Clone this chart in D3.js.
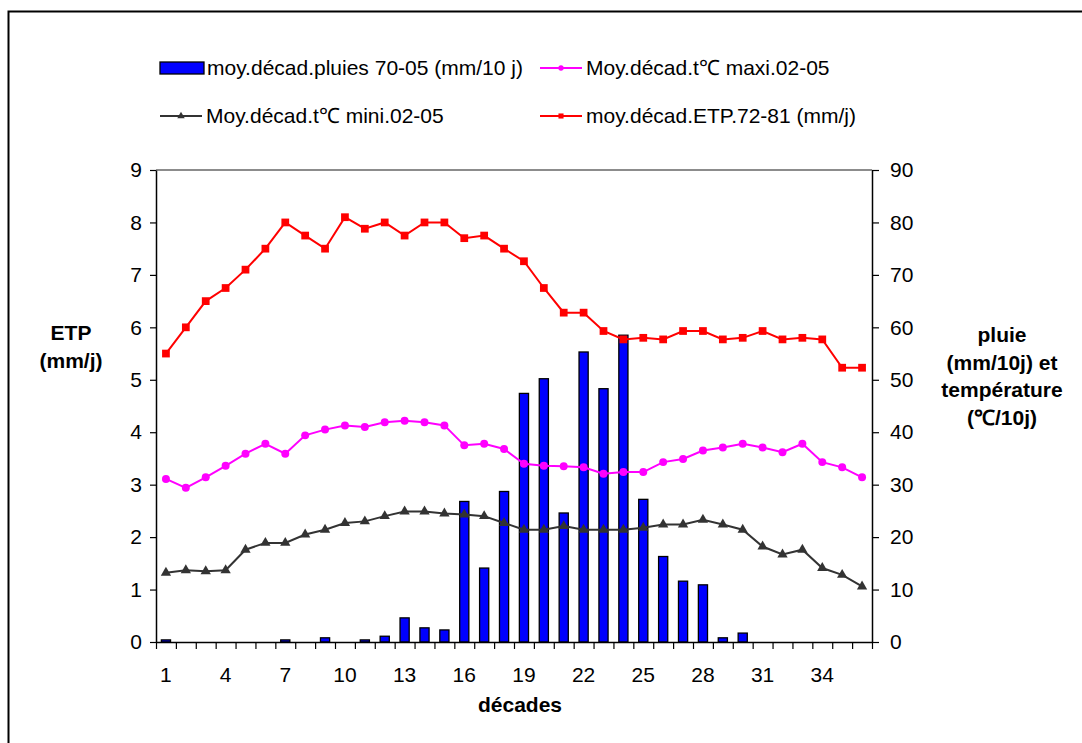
<!DOCTYPE html>
<html>
<head>
<meta charset="utf-8">
<script src="https://cdn.jsdelivr.net/npm/d3@7"></script>
<style>
  html, body { margin: 0; padding: 0; background: #fff; }
  svg { display: block; font-family: "Liberation Sans", Arial, sans-serif; }
</style>
</head>
<body>
<svg id="chart" width="1082" height="743"></svg>
<script>
// Décades 1..36
const decades = d3.range(1, 37);

// Pluies moyennes décadaires 1970-2005 (mm/10 j)
const pluies = [0.4, 0, 0, 0, 0, 0, 0.4, 0, 0.8, 0, 0.4, 1.1,
                4.6, 2.7, 2.3, 26.8, 14.1, 28.7, 47.4, 50.2, 24.6, 55.3, 48.3, 58.5,
                27.2, 16.3, 11.6, 10.9, 0.8, 1.7, 0, 0, 0, 0, 0, 0];

// Température maximale moyenne décadaire 2002-2005 (°C)
const tmax = [31.1, 29.4, 31.4, 33.6, 35.9, 37.8, 35.9, 39.4, 40.5, 41.3, 41.0, 41.9,
              42.2, 41.9, 41.3, 37.5, 37.8, 36.8, 34.0, 33.6, 33.5, 33.3, 32.1, 32.4,
              32.4, 34.3, 34.9, 36.5, 37.1, 37.8, 37.1, 36.2, 37.8, 34.3, 33.3, 31.4];

// Température minimale moyenne décadaire 2002-2005 (°C)
const tmin = [13.2, 13.7, 13.5, 13.7, 17.6, 18.9, 18.9, 20.5, 21.4, 22.7, 23.0, 24.0,
              24.9, 24.9, 24.5, 24.3, 24.0, 22.7, 21.4, 21.4, 22.1, 21.4, 21.4, 21.4,
              21.8, 22.4, 22.4, 23.3, 22.4, 21.4, 18.2, 16.7, 17.6, 14.1, 12.8, 10.6];

// ETP moyenne décadaire 1972-1981 (mm/j)
const etp = [5.5, 6.0, 6.5, 6.75, 7.1, 7.5, 8.0, 7.75, 7.5, 8.1, 7.88, 8.0,
             7.75, 8.0, 8.0, 7.7, 7.75, 7.5, 7.26, 6.75, 6.28, 6.28, 5.93, 5.77,
             5.8, 5.77, 5.93, 5.93, 5.77, 5.8, 5.93, 5.77, 5.8, 5.77, 5.23, 5.23];

const leftTicks = d3.range(0, 10);
const rightTicks = d3.range(0, 100, 10);
const xTickLabels = [1, 4, 7, 10, 13, 16, 19, 22, 25, 28, 31, 34];

const legendItems = [
  { label: "moy.décad.pluies 70-05 (mm/10 j)", type: "bar" },
  { label: "Moy.décad.t℃ maxi.02-05", type: "circle", color: "#ff00ff" },
  { label: "Moy.décad.t℃ mini.02-05", type: "triangle", color: "#333333" },
  { label: "moy.décad.ETP.72-81 (mm/j)", type: "square", color: "#ff0000" }
];

const svg = d3.select("#chart");
const L = 156, R = 872, T = 170, B = 642;
const FS = 21;

// Cadre du graphique
svg.append("rect").attr("x", 8.5).attr("y", 11.5).attr("width", 1100).attr("height", 760)
  .attr("fill", "#fff").attr("stroke", "#000").attr("stroke-width", 2);

const x = d3.scaleBand().domain(decades).range([L, R]).padding(0);
const xEdges = d3.scaleLinear().domain([0, 36]).range([L, R]);
const yL = d3.scaleLinear().domain([0, 9]).range([B, T]);
const yR = d3.scaleLinear().domain([0, 90]).range([B, T]);
const cx = d => x(d) + x.bandwidth() / 2;

// Bordure haute de la zone de tracé
svg.append("line").attr("x1", L).attr("x2", R).attr("y1", T).attr("y2", T)
  .attr("stroke", "#666").attr("stroke-width", 1.5);

// Barres de pluie (axe secondaire)
const bw = x.bandwidth() * 0.46;
svg.append("g").selectAll("rect").data(decades).join("rect")
  .attr("x", d => cx(d) - bw / 2)
  .attr("y", (d, i) => yR(pluies[i]))
  .attr("width", bw)
  .attr("height", (d, i) => B - yR(pluies[i]))
  .attr("fill", "#0000ff").attr("stroke", "#000").attr("stroke-width", 1.3)
  .attr("display", (d, i) => pluies[i] > 0 ? null : "none");

// Axes
const styleAxis = g => {
  g.select(".domain").attr("stroke", "#000").attr("stroke-width", 1.5);
  g.selectAll(".tick line").attr("stroke", "#000").attr("stroke-width", 1.2);
  g.selectAll("text").attr("font-size", FS).attr("fill", "#000").attr("font-family", "Liberation Sans, Arial, sans-serif");
};

svg.append("g").attr("transform", `translate(${L},0)`)
  .call(d3.axisLeft(yL).tickValues(leftTicks).tickSize(6).tickPadding(8).tickSizeOuter(0))
  .call(styleAxis);

svg.append("g").attr("transform", `translate(${R},0)`)
  .call(d3.axisRight(yR).tickValues(rightTicks).tickSize(7).tickPadding(11).tickSizeOuter(0))
  .call(styleAxis);

svg.append("g").attr("transform", `translate(0,${B})`)
  .call(d3.axisBottom(xEdges).ticks(36).tickFormat("").tickSize(7).tickSizeOuter(0))
  .call(styleAxis);

svg.append("g").attr("transform", `translate(0,${B})`)
  .call(d3.axisBottom(x).tickValues(xTickLabels).tickSize(0).tickPadding(25))
  .call(g => g.select(".domain").remove())
  .call(styleAxis);

// Courbes
const lineL = d3.line().x((d, i) => cx(decades[i])).y(d => yL(d));
const lineR = d3.line().x((d, i) => cx(decades[i])).y(d => yR(d));

svg.append("path").datum(tmin).attr("d", lineR)
  .attr("fill", "none").attr("stroke", "#333333").attr("stroke-width", 2);
svg.append("path").datum(tmax).attr("d", lineR)
  .attr("fill", "none").attr("stroke", "#ff00ff").attr("stroke-width", 2);
svg.append("path").datum(etp).attr("d", lineL)
  .attr("fill", "none").attr("stroke", "#ff0000").attr("stroke-width", 2);

const tri = d3.symbol().type(d3.symbolTriangle).size(46);
const sq = d3.symbol().type(d3.symbolSquare).size(60);
const circ = d3.symbol().type(d3.symbolCircle).size(50);

svg.append("g").selectAll("path").data(tmin).join("path")
  .attr("transform", (d, i) => `translate(${cx(decades[i])},${yR(d)})`)
  .attr("d", tri).attr("fill", "#333333");
svg.append("g").selectAll("path").data(tmax).join("path")
  .attr("transform", (d, i) => `translate(${cx(decades[i])},${yR(d)})`)
  .attr("d", circ).attr("fill", "#ff00ff");
svg.append("g").selectAll("path").data(etp).join("path")
  .attr("transform", (d, i) => `translate(${cx(decades[i])},${yL(d)})`)
  .attr("d", sq).attr("fill", "#ff0000");

// Titres des axes
svg.append("text").attr("x", (L + R) / 2 + 6).attr("y", 712)
  .attr("text-anchor", "middle").attr("font-size", FS).attr("font-weight", "bold")
  .text("décades");

const leftTitle = ["ETP", "(mm/j)"];
svg.append("g").selectAll("text").data(leftTitle).join("text")
  .attr("x", 71).attr("y", (d, i) => 340 + i * 28)
  .attr("text-anchor", "middle").attr("font-size", FS).attr("font-weight", "bold")
  .text(d => d);

const rightTitle = ["pluie", "(mm/10j) et", "température", "(℃/10j)"];
svg.append("g").selectAll("text").data(rightTitle).join("text")
  .attr("x", 1002).attr("y", (d, i) => 342 + i * 27.5)
  .attr("text-anchor", "middle").attr("font-size", FS).attr("font-weight", "bold")
  .text(d => d);

// Légende
const legPos = [[160, 68], [540, 68], [160, 116], [540, 116]];
const leg = svg.append("g").selectAll("g").data(legendItems).join("g")
  .attr("transform", (d, i) => `translate(${legPos[i][0]},${legPos[i][1]})`);

leg.each(function(d) {
  const g = d3.select(this);
  if (d.type === "bar") {
    g.append("rect").attr("x", 0).attr("y", -6).attr("width", 44).attr("height", 12)
      .attr("fill", "#0000ff").attr("stroke", "#000").attr("stroke-width", 1.3);
  } else {
    g.append("line").attr("x1", 0).attr("x2", 42).attr("y1", 0).attr("y2", 0)
      .attr("stroke", d.color).attr("stroke-width", 2);
    const sym = d.type === "circle" ? d3.symbol().type(d3.symbolCircle).size(22)
      : d.type === "triangle" ? d3.symbol().type(d3.symbolTriangle).size(24)
      : d3.symbol().type(d3.symbolSquare).size(26);
    g.append("path").attr("transform", "translate(21,0)").attr("d", sym).attr("fill", d.color);
  }
  g.append("text").attr("x", d.type === "bar" ? 47 : 46).attr("y", 7)
    .attr("font-size", FS).text(d.label);
});
</script>
</body>
</html>
